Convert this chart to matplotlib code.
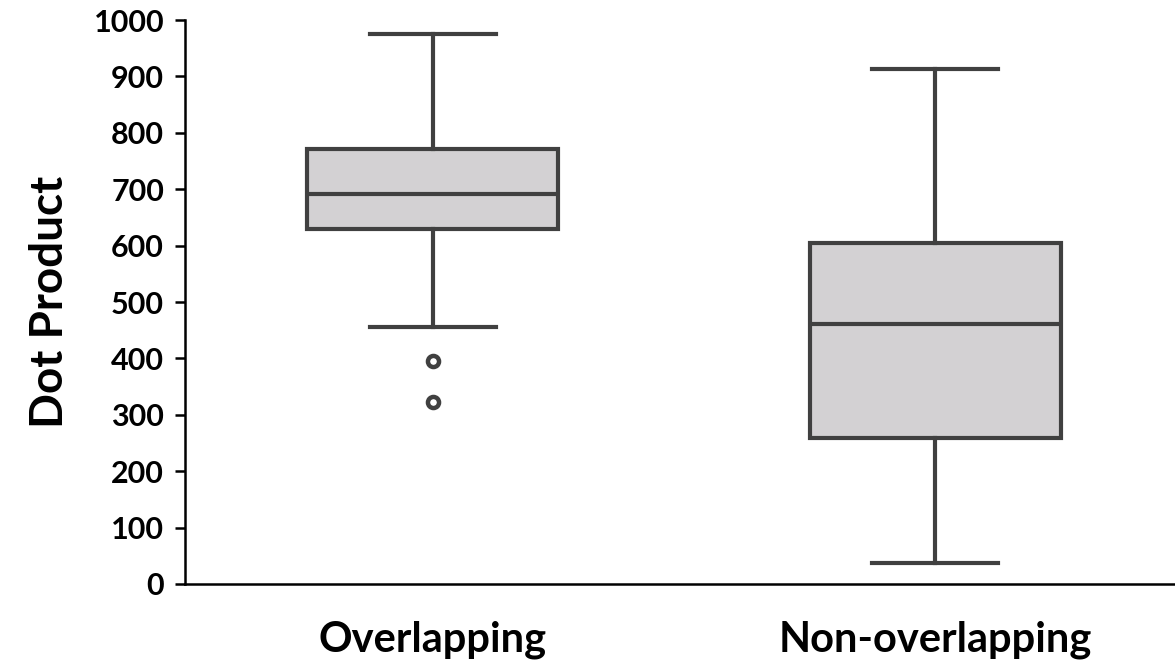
import matplotlib
matplotlib.use('Agg')
import matplotlib.pyplot as plt

# box statistics
groups = ['Overlapping', 'Non-overlapping']
whislo = [456, 38]
q1 = [629, 259]
med = [692, 461]
q3 = [771, 604]
whishi = [976, 913]
fliers = [[396, 323], []]

yticks = [0, 100, 200, 300, 400, 500, 600, 700, 800, 900, 1000]

plt.rcParams['font.family'] = ['Lato', 'DejaVu Sans']
plt.rcParams['font.weight'] = 'bold'

stats = []
for i in range(len(groups)):
    stats.append({'label': groups[i], 'whislo': whislo[i], 'q1': q1[i], 'med': med[i],
                  'q3': q3[i], 'whishi': whishi[i], 'fliers': fliers[i]})

fig = plt.figure(figsize=(11.75, 6.61), dpi=100)
ax = fig.add_axes([0.1574, 0.1165, 0.8426, 0.8532])

edge = '#404040'
lw = 3.0
ax.bxp(stats, positions=[1, 2], widths=0.5, patch_artist=True,
       boxprops=dict(facecolor='#d3d1d3', edgecolor=edge, linewidth=lw),
       medianprops=dict(color=edge, linewidth=lw),
       whiskerprops=dict(color=edge, linewidth=lw),
       capprops=dict(color=edge, linewidth=lw),
       capwidths=0.25,
       flierprops=dict(marker='o', markerfacecolor='white', markeredgecolor=edge,
                       markersize=8, markeredgewidth=3.2))

ax.set_xlim(0.506, 2.478)
ax.set_ylim(0, 1000)
ax.set_yticks(yticks)
ax.tick_params(axis='y', labelsize=22, length=7, width=1.8, direction='out', pad=8)
ax.tick_params(axis='x', length=0, labelsize=30, pad=26)
for lab in ax.get_yticklabels() + ax.get_xticklabels():
    lab.set_fontweight('bold')
ax.set_ylabel('Dot Product', fontsize=33, fontweight='bold', labelpad=16)

for s in ['top', 'right']:
    ax.spines[s].set_visible(False)
for s in ['left', 'bottom']:
    ax.spines[s].set_linewidth(1.8)

plt.savefig('out.png', dpi=100)
